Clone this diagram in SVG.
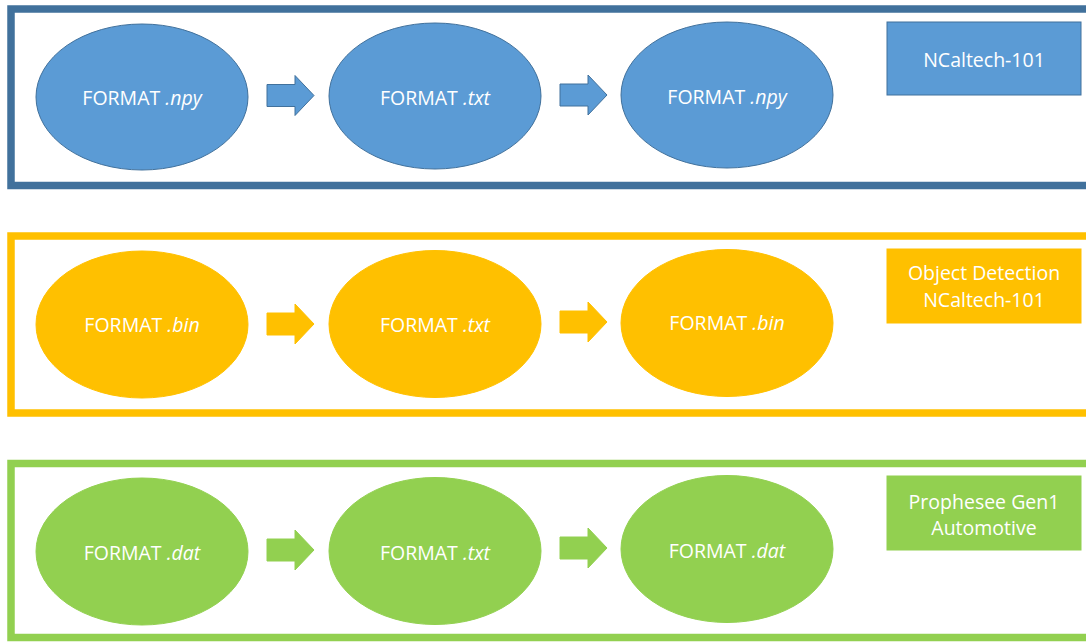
<svg xmlns="http://www.w3.org/2000/svg" width="1086" height="644" viewBox="0 0 1086 644">
<style>
text{font-family:"Open Sans","Noto Sans",sans-serif;font-size:19.5px;fill:#fff;text-anchor:middle}
.i{font-style:italic}
.frame{fill:none;stroke-width:7.5}
.b{fill:#5B9BD5;stroke:#41719C;stroke-width:1}
.y{fill:#FFC000;stroke:#FFC000;stroke-width:1}
.g{fill:#92D050;stroke:#92D050;stroke-width:1}
</style>
<defs>
<path id="arr" d="M0,-11 H28 V-20 L47,0 L28,20 V11 H0 Z"/>
</defs>
<g id="frames">
<rect id="frame-blue" class="frame" x="11" y="9" width="1100" height="176.5" stroke="#41719C"/>
<rect id="frame-yellow" class="frame" x="11" y="236" width="1100" height="177" stroke="#FFC000"/>
<rect id="frame-green" class="frame" x="11" y="463.5" width="1100" height="174" stroke="#92D050"/>
</g>
<g id="connectors">
<use href="#arr" x="267" y="95.5" class="b"/>
<use href="#arr" x="560" y="95" class="b"/>
<use href="#arr" x="267" y="324" class="y"/>
<use href="#arr" x="560" y="322" class="y"/>
<use href="#arr" x="267" y="550" class="g"/>
<use href="#arr" x="560" y="548" class="g"/>
</g>
<g id="n1"><ellipse class="b" cx="142" cy="97" rx="106" ry="73"/><text x="142" y="104.5">FORMAT <tspan class="i">.npy</tspan></text></g>
<g id="n2"><ellipse class="b" cx="435" cy="96" rx="106" ry="73"/><text x="435" y="104.5">FORMAT <tspan class="i">.txt</tspan></text></g>
<g id="n3"><ellipse class="b" cx="727" cy="95" rx="106" ry="73"/><text x="727" y="103.5">FORMAT <tspan class="i">.npy</tspan></text></g>
<g id="l1"><rect class="b" x="887" y="22" width="194" height="73"/><text x="984" y="66.5">NCaltech-101</text></g>
<g id="n4"><ellipse class="y" cx="142" cy="324.5" rx="106" ry="73.5"/><text x="142" y="331.5">FORMAT <tspan class="i">.bin</tspan></text></g>
<g id="n5"><ellipse class="y" cx="435" cy="324" rx="106" ry="73.5"/><text x="435" y="331.5">FORMAT <tspan class="i">.txt</tspan></text></g>
<g id="n6"><ellipse class="y" cx="727" cy="323" rx="106" ry="73.5"/><text x="727" y="329.5">FORMAT <tspan class="i">.bin</tspan></text></g>
<g id="l2"><rect class="y" x="887" y="249" width="194" height="74"/><text x="984" y="279.5">Object Detection</text><text x="984" y="306.5">NCaltech-101</text></g>
<g id="n7"><ellipse class="g" cx="142" cy="551.5" rx="106" ry="73.5"/><text x="142" y="559.5">FORMAT <tspan class="i">.dat</tspan></text></g>
<g id="n8"><ellipse class="g" cx="435" cy="551" rx="106" ry="73.5"/><text x="435" y="559.5">FORMAT <tspan class="i">.txt</tspan></text></g>
<g id="n9"><ellipse class="g" cx="727" cy="549" rx="106" ry="73.5"/><text x="727" y="557.5">FORMAT <tspan class="i">.dat</tspan></text></g>
<g id="l3"><rect class="g" x="887" y="476" width="194" height="74"/><text x="984" y="508.5">Prophesee Gen1</text><text x="984" y="534.5">Automotive</text></g>
</svg>
